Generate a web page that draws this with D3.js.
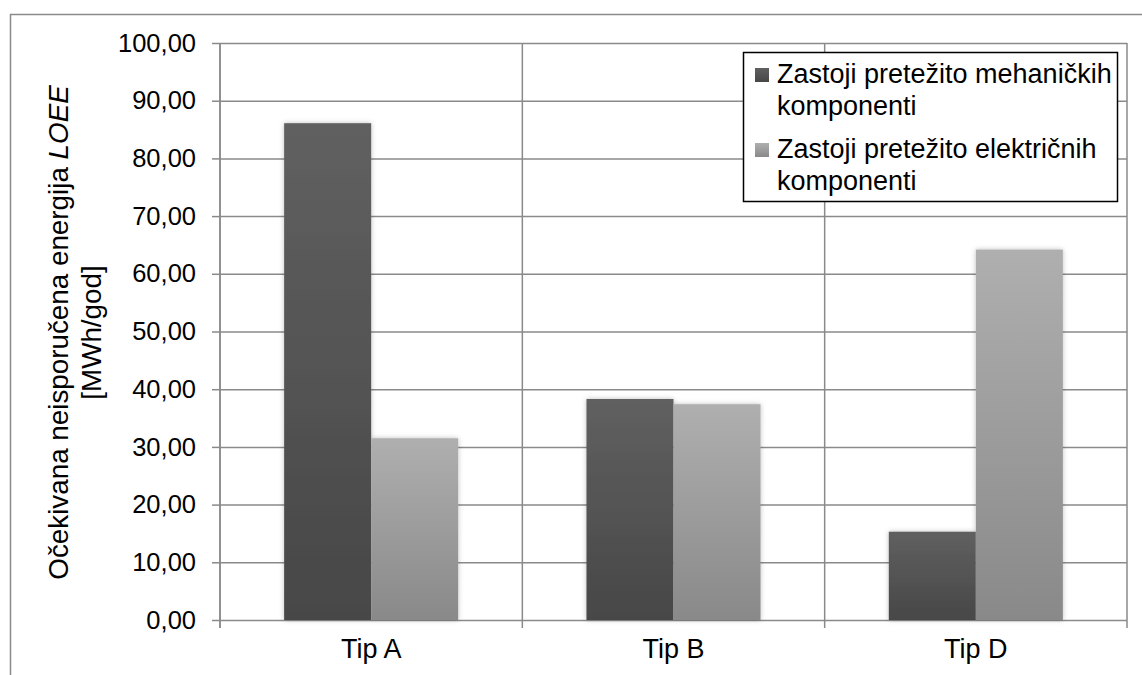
<!DOCTYPE html>
<html>
<head>
<meta charset="utf-8">
<script src="https://cdn.jsdelivr.net/npm/d3@7"></script>
<style>
  html, body { margin: 0; padding: 0; background: #fff; }
  svg { display: block; font-family: "Liberation Sans", Arial, sans-serif; }
</style>
</head>
<body>
<svg id="chart" width="1142" height="675"></svg>
<script>
const categories = ["Tip A", "Tip B", "Tip D"];
const seriesNames = ["Zastoji pretežito mehaničkih komponenti", "Zastoji pretežito električnih komponenti"];
const legendLines = [["Zastoji pretežito mehaničkih", "komponenti"], ["Zastoji pretežito električnih", "komponenti"]];
const mechanical = [86.1, 38.3, 15.3];
const electrical = [31.5, 37.4, 64.2];
const yTicks = [0, 10, 20, 30, 40, 50, 60, 70, 80, 90, 100];

const svg = d3.select("#chart");
const plot = { left: 220, top: 43, right: 1127, bottom: 620 };
const gridColor = "#8a8a8a";

// outer chart frame (only left & top visible)
svg.append("rect").attr("x", 10.5).attr("y", 14.5).attr("width", 1200).attr("height", 800)
  .attr("fill", "none").attr("stroke", gridColor).attr("stroke-width", 1.5);

const defs = svg.append("defs");
const grads = [["gDark", "#606060", "#474747"], ["gLight", "#afafaf", "#898989"]];
grads.forEach(([id, c0, c1]) => {
  const g = defs.append("linearGradient").attr("id", id).attr("x1", 0).attr("y1", 0).attr("x2", 0).attr("y2", 1);
  g.append("stop").attr("offset", "0%").attr("stop-color", c0);
  g.append("stop").attr("offset", "100%").attr("stop-color", c1);
});
const f = defs.append("filter").attr("id", "shadow").attr("x", "-20%").attr("y", "-20%").attr("width", "140%").attr("height", "140%");
f.append("feDropShadow").attr("dx", 0).attr("dy", 0).attr("stdDeviation", 2.5).attr("flood-color", "#000").attr("flood-opacity", 0.25);

const y = d3.scaleLinear().domain([0, 100]).range([plot.bottom, plot.top]);
const x0 = d3.scaleBand().domain(categories).range([plot.left, plot.right]).padding(0);
const x1 = d3.scaleBand().domain([0, 1]).range([0, x0.bandwidth()]).paddingInner(0).paddingOuter(0.737);

// horizontal gridlines via axis
const yGrid = d3.axisLeft(y).tickValues(yTicks).tickSize(-(plot.right - plot.left)).tickFormat("");
svg.append("g").attr("transform", `translate(${plot.left},0)`).call(yGrid)
  .call(g => g.select(".domain").remove())
  .call(g => g.selectAll("line").attr("stroke", gridColor).attr("stroke-width", 1.5));

// y axis with tick labels
const fmt = v => d3.format(".2f")(v).replace(".", ",");
const yAxis = d3.axisLeft(y).tickValues(yTicks).tickSize(8).tickPadding(16).tickFormat(fmt);
svg.append("g").attr("transform", `translate(${plot.left},0)`).call(yAxis)
  .call(g => g.select(".domain").attr("stroke", gridColor).attr("stroke-width", 1.5).attr("d", `M0,${plot.bottom + 8}V${plot.top}`))
  .call(g => g.selectAll("line").attr("stroke", gridColor).attr("stroke-width", 1.5))
  .call(g => g.selectAll("text").attr("fill", "#000").attr("font-size", 25.5).attr("font-family", "Liberation Sans, Arial, sans-serif"));

// vertical category separators
const seps = categories.map(c => x0(c) + x0.bandwidth()).concat([plot.left]);
svg.append("g").selectAll("line").data(seps).join("line")
  .attr("x1", d => d).attr("x2", d => d).attr("y1", plot.top).attr("y2", plot.bottom + 8)
  .attr("stroke", gridColor).attr("stroke-width", 1.5);

// bars
const series = [mechanical, electrical];
const fills = ["url(#gDark)", "url(#gLight)"];
const barG = svg.append("g").attr("filter", "url(#shadow)");
series.forEach((vals, si) => {
  barG.append("g").selectAll("rect").data(vals).join("rect")
    .attr("x", (d, i) => x0(categories[i]) + x1(si))
    .attr("y", d => y(d))
    .attr("width", x1.bandwidth())
    .attr("height", d => y(0) - y(d))
    .attr("fill", fills[si]);
});

// category labels
svg.append("g").selectAll("text").data(categories).join("text")
  .attr("x", d => x0(d) + x0.bandwidth() / 2).attr("y", 658)
  .attr("text-anchor", "middle").attr("font-size", 27).attr("fill", "#000").text(d => d);

// y-axis title
const yt = svg.append("g").attr("transform", `translate(0,${(plot.top + plot.bottom) / 2 + 1}) rotate(-90)`);
const t1 = yt.append("text").attr("x", 0).attr("y", 68).attr("text-anchor", "middle").attr("font-size", 27.8).attr("fill", "#000");
t1.append("tspan").text("Očekivana neisporučena energija ");
t1.append("tspan").attr("font-style", "italic").text("LOEE");
yt.append("text").attr("x", 0).attr("y", 101).attr("text-anchor", "middle").attr("font-size", 27.8).attr("fill", "#000").text("[MWh/god]");

// legend
const lg = svg.append("g");
lg.append("rect").attr("x", 743.5).attr("y", 52.5).attr("width", 374).attr("height", 149)
  .attr("fill", "#fff").attr("stroke", "#000").attr("stroke-width", 1.5);
const itemY = [83, 158];
legendLines.forEach((lines, i) => {
  lg.append("rect").attr("x", 755).attr("y", itemY[i] - 15).attr("width", 14).attr("height", 14).attr("fill", fills[i]);
  lines.forEach((ln, j) => {
    lg.append("text").attr("x", 777).attr("y", itemY[i] + j * 32).attr("font-size", 27).attr("fill", "#000").text(ln);
  });
});
</script>
</body>
</html>
